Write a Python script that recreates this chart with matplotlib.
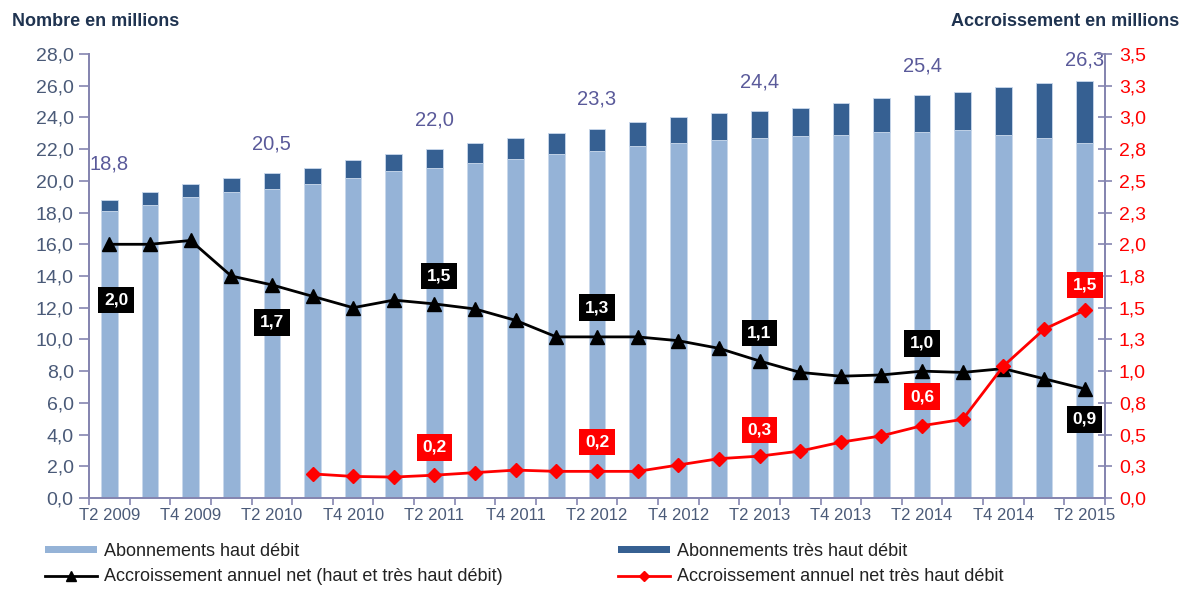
import matplotlib
matplotlib.use("Agg")
import matplotlib.pyplot as plt
from matplotlib.lines import Line2D
from matplotlib.patches import Patch
import numpy as np

plt.rcParams['font.family'] = ['Liberation Sans', 'DejaVu Sans']

# ---------------- data ----------------
quarters = ['T2 2009', 'T3 2009', 'T4 2009', 'T1 2010', 'T2 2010', 'T3 2010', 'T4 2010',
            'T1 2011', 'T2 2011', 'T3 2011', 'T4 2011', 'T1 2012', 'T2 2012', 'T3 2012',
            'T4 2012', 'T1 2013', 'T2 2013', 'T3 2013', 'T4 2013', 'T1 2014', 'T2 2014',
            'T3 2014', 'T4 2014', 'T1 2015', 'T2 2015']
haut_debit = [18.1, 18.5, 19.0, 19.3, 19.5, 19.8, 20.2, 20.6, 20.8, 21.1, 21.4, 21.7, 21.9,
              22.2, 22.4, 22.6, 22.7, 22.8, 22.9, 23.1, 23.1, 23.2, 22.9, 22.7, 22.4]
tres_haut_debit = [0.7, 0.8, 0.8, 0.9, 1.0, 1.0, 1.1, 1.1, 1.2, 1.3, 1.3, 1.3, 1.4,
                   1.5, 1.6, 1.7, 1.7, 1.8, 2.0, 2.1, 2.3, 2.4, 3.0, 3.5, 3.9]
accr_total = [2.00, 2.00, 2.03, 1.75, 1.68, 1.59, 1.50, 1.56, 1.53, 1.49, 1.40, 1.27, 1.27,
              1.27, 1.24, 1.18, 1.08, 0.99, 0.96, 0.97, 1.00, 0.99, 1.02, 0.94, 0.86]
accr_thd = [np.nan, np.nan, np.nan, np.nan, np.nan, 0.19, 0.17, 0.165, 0.18, 0.20, 0.22,
            0.21, 0.21, 0.21, 0.26, 0.31, 0.33, 0.37, 0.44, 0.49, 0.57, 0.62, 1.04, 1.33, 1.48]
left_ticks = [0, 2, 4, 6, 8, 10, 12, 14, 16, 18, 20, 22, 24, 26, 28]
right_ticks = [0, 0.25, 0.5, 0.75, 1.0, 1.25, 1.5, 1.75, 2.0, 2.25, 2.5, 2.75, 3.0, 3.25, 3.5]
right_tick_labels = ['0,0', '0,3', '0,5', '0,8', '1,0', '1,3', '1,5', '1,8', '2,0', '2,3',
                     '2,5', '2,8', '3,0', '3,3', '3,5']
total_label_idx = [0, 4, 8, 12, 16, 20, 24]
legend_labels = ['Abonnements haut débit', 'Abonnements très haut débit',
                 'Accroissement annuel net (haut et très haut débit)',
                 'Accroissement annuel net très haut débit']

# ---------------- styles ----------------
C_HD = '#95b3d7'
C_THD = '#366092'
C_AXIS = '#8585b0'
C_TICK = '#4a5a78'
C_TOTAL = '#5a5a9a'
C_TITLE = '#1f3350'

def fr(v):
    return f"{v:.1f}".replace('.', ',')

W, H = 1189, 590
fig = plt.figure(figsize=(W / 100, H / 100), dpi=100)
ax = fig.add_axes([89 / W, 1 - 498 / H, (1105 - 89) / W, (498 - 54) / H])
ax2 = ax.twinx()

x = np.arange(len(quarters))
hd = np.array(haut_debit)
thd = np.array(tres_haut_debit)
tot = hd + thd

ax.bar(x, hd, width=0.41, color=C_HD, edgecolor='#c9d8ec', linewidth=0.6, zorder=2)
ax.bar(x, thd, bottom=hd, width=0.41, color=C_THD, edgecolor='#c9d8ec', linewidth=0.6,
       zorder=2)

ax.set_xlim(-0.5, len(quarters) - 0.5)
ax.set_ylim(0, 28)
ax2.set_ylim(0, 3.5)

# left axis
ax.set_yticks(left_ticks)
ax.set_yticklabels([fr(v) for v in left_ticks])
ax.tick_params(axis='y', colors=C_AXIS, labelcolor=C_TICK, labelsize=14,
               direction='out', length=7, width=1.2, pad=4)
# right axis
ax2.set_yticks(right_ticks)
ax2.set_yticklabels(right_tick_labels)
ax2.tick_params(axis='y', colors=C_AXIS, labelcolor='#ff0000', labelsize=14,
                direction='inout', length=10, width=1.2, pad=5)
# x axis
ax.set_xticks(x[::2])
ax.set_xticklabels(quarters[::2])
ax.set_xticks(np.arange(-0.5, len(quarters), 1), minor=True)
ax.tick_params(axis='x', which='major', length=0, labelsize=12, labelcolor=C_TICK, pad=7)
ax.tick_params(axis='x', which='minor', length=5, width=1.2, colors=C_AXIS)

for a in (ax, ax2):
    a.spines['top'].set_visible(False)
    for s in ('left', 'right', 'bottom'):
        a.spines[s].set_color(C_AXIS)
        a.spines[s].set_linewidth(1.3)
ax.patch.set_visible(False)
ax2.set_zorder(ax.get_zorder() + 1)

# lines
ax2.plot(x, accr_total, color='black', lw=2, marker='^', markersize=10.5, zorder=4,
         clip_on=False)
ax2.plot(x, accr_thd, color='#ff0000', lw=2, marker='D', markersize=7.5, zorder=5,
         clip_on=False)

# total labels above bars
for i in total_label_idx:
    dy = 21
    if i == 0:
        dy = 26
    if i == len(quarters) - 1:
        dy = 15
    ax.annotate(fr(tot[i]), (x[i], tot[i]), xytext=(0, dy), textcoords='offset points',
                ha='center', va='center', fontsize=14.5, color=C_TOTAL, zorder=6)

# data labels for lines
black_offsets = {0: (5, -40), 4: (0, -27), 8: (3, 20), 12: (0, 21), 16: (0, 20),
                 20: (0, 20), 24: (0, -22)}
red_offsets = {8: (0, 20), 12: (0, 21), 16: (0, 19), 20: (0, 21), 24: (0, 18)}
box_kw = dict(textcoords='offset points', ha='center', va='center', fontsize=12.5,
              fontweight='bold', color='white', zorder=7)
for i, (dx, dy) in black_offsets.items():
    ax2.annotate(fr(accr_total[i]), (x[i], accr_total[i]), xytext=(dx, dy),
                 bbox=dict(boxstyle='square,pad=0.33', fc='black', ec='none'), **box_kw)
for i, (dx, dy) in red_offsets.items():
    ax2.annotate(fr(accr_thd[i]), (x[i], accr_thd[i]), xytext=(dx, dy),
                 bbox=dict(boxstyle='square,pad=0.33', fc='#ff0000', ec='none'), **box_kw)

# titles
fig.text(12 / W, 1 - 22 / H, 'Nombre en millions', ha='left', va='center',
         fontsize=13, fontweight='bold', color=C_TITLE)
fig.text(1179 / W, 1 - 22 / H, 'Accroissement en millions', ha='right', va='center',
         fontsize=13, fontweight='bold', color=C_TITLE)

# legend
h_hd = Patch(facecolor=C_HD, edgecolor='none')
h_thd = Patch(facecolor=C_THD, edgecolor='none')
h_tot = Line2D([], [], color='black', lw=2, marker='^', markersize=7)
h_red = Line2D([], [], color='#ff0000', lw=2, marker='D', markersize=5.5)
common = dict(loc='upper left', frameon=False, fontsize=13, handlelength=2.9,
              handleheight=0.3, handletextpad=0.35, labelspacing=0.45, borderpad=0,
              borderaxespad=0, labelcolor='#222222')
fig.legend([h_hd, h_tot], [legend_labels[0], legend_labels[2]],
           bbox_to_anchor=(45 / W, 1 - 543 / H), **common)
fig.legend([h_thd, h_red], [legend_labels[1], legend_labels[3]],
           bbox_to_anchor=(618 / W, 1 - 543 / H), **common)

fig.savefig('out.png', dpi=100)
